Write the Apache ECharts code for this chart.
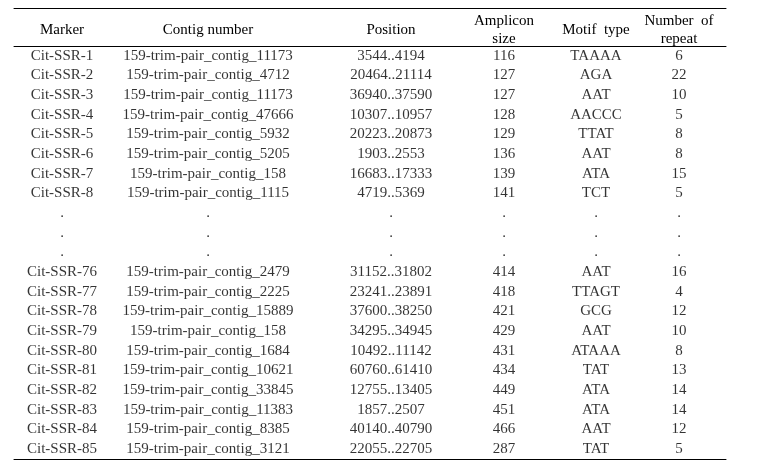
<!DOCTYPE html>
<html>
<head>
<meta charset="utf-8">
<script src="https://cdn.jsdelivr.net/npm/echarts@6/dist/echarts.min.js"></script>
<style>
html,body{margin:0;padding:0;background:#fff;}
#chart{width:777px;height:463px;}
</style>
</head>
<body>
<div id="chart"></div>
<script>
// ---- data ----
const headers = ['Marker', 'Contig number', 'Position', 'Amplicon\nsize', 'Motif  type', 'Number  of\nrepeat'];
const markers = ['Cit-SSR-1','Cit-SSR-2','Cit-SSR-3','Cit-SSR-4','Cit-SSR-5','Cit-SSR-6','Cit-SSR-7','Cit-SSR-8','.','.','.',
  'Cit-SSR-76','Cit-SSR-77','Cit-SSR-78','Cit-SSR-79','Cit-SSR-80','Cit-SSR-81','Cit-SSR-82','Cit-SSR-83','Cit-SSR-84','Cit-SSR-85'];
const contigs = ['159-trim-pair_contig_11173','159-trim-pair_contig_4712','159-trim-pair_contig_11173','159-trim-pair_contig_47666',
  '159-trim-pair_contig_5932','159-trim-pair_contig_5205','159-trim-pair_contig_158','159-trim-pair_contig_1115','.','.','.',
  '159-trim-pair_contig_2479','159-trim-pair_contig_2225','159-trim-pair_contig_15889','159-trim-pair_contig_158',
  '159-trim-pair_contig_1684','159-trim-pair_contig_10621','159-trim-pair_contig_33845','159-trim-pair_contig_11383',
  '159-trim-pair_contig_8385','159-trim-pair_contig_3121'];
const positions = ['3544..4194','20464..21114','36940..37590','10307..10957','20223..20873','1903..2553','16683..17333','4719..5369','.','.','.',
  '31152..31802','23241..23891','37600..38250','34295..34945','10492..11142','60760..61410','12755..13405','1857..2507','40140..40790','22055..22705'];
const amplicons = ['116','127','127','128','129','136','139','141','.','.','.',
  '414','418','421','429','431','434','449','451','466','287'];
const motifs = ['TAAAA','AGA','AAT','AACCC','TTAT','AAT','ATA','TCT','.','.','.',
  'AAT','TTAGT','GCG','AAT','ATAAA','TAT','ATA','ATA','AAT','TAT'];
const repeats = ['6','22','10','5','8','8','15','5','.','.','.',
  '16','4','12','10','8','13','14','14','12','5'];

const columns = [markers, contigs, positions, amplicons, motifs, repeats];

// ---- layout (pixels) ----
const colCenters = [62, 208, 391, 504, 596, 679];
const colWidth = 40;
const tableLeft = 14, tableRight = 726;
const ruleTop = 8, headRule = 46, ruleBottom = 459;
const W = 777, H = 463;
const font = 'Liberation Serif';
const fsize = 15;

const rowIds = markers.map((_, i) => 'r' + i);

const grid = [], xAxis = [], yAxis = [], series = [];
grid.push({left: tableLeft, right: W - tableRight, top: headRule, bottom: H - ruleBottom});
const ruleAxis = (pos, offset) => ({
  gridIndex: 0, type: 'category', data: [''], position: pos, offset: offset,
  axisLine: {show: true, lineStyle: {color: '#000', width: 1}},
  axisTick: {show: false}, axisLabel: {show: false}, splitLine: {show: false}
});
xAxis.push(ruleAxis('top', 0));
xAxis.push(ruleAxis('top', headRule - ruleTop));
xAxis.push(ruleAxis('bottom', 0));
yAxis.push({gridIndex: 0, type: 'category', data: rowIds, show: false});
series.push({type: 'scatter', xAxisIndex: 0, yAxisIndex: 0, data: [], silent: true});

columns.forEach((col, c) => {
  const gi = grid.length;
  grid.push({left: colCenters[c] - colWidth / 2, width: colWidth, top: headRule, bottom: H - ruleBottom});
  const xi = xAxis.length;
  xAxis.push({
    gridIndex: gi, type: 'category', data: [headers[c]], position: 'top',
    axisLine: {show: false}, axisTick: {show: false}, splitLine: {show: false},
    axisLabel: {show: true, interval: 0, margin: 16, verticalAlign: 'middle', align: 'center',
      fontFamily: font, fontSize: fsize, color: '#000', lineHeight: 18}
  });
  const yi = yAxis.length;
  yAxis.push({gridIndex: gi, type: 'category', data: rowIds, inverse: true, show: false});
  series.push({
    type: 'scatter', xAxisIndex: xi, yAxisIndex: yi, silent: true,
    symbolSize: 0, itemStyle: {color: 'rgba(0,0,0,0)'},
    data: col.map((v, r) => ({value: [headers[c], rowIds[r]], text: v})),
    label: {show: true, position: 'inside', formatter: p => p.data.text,
      fontFamily: font, fontSize: fsize, color: '#000'},
    labelLayout: {hideOverlap: false}
  });
});

const chart = echarts.init(document.getElementById('chart'), null, {renderer: 'canvas'});
chart.setOption({animation: false, backgroundColor: '#fff', grid, xAxis, yAxis, series});
</script>
</body>
</html>
